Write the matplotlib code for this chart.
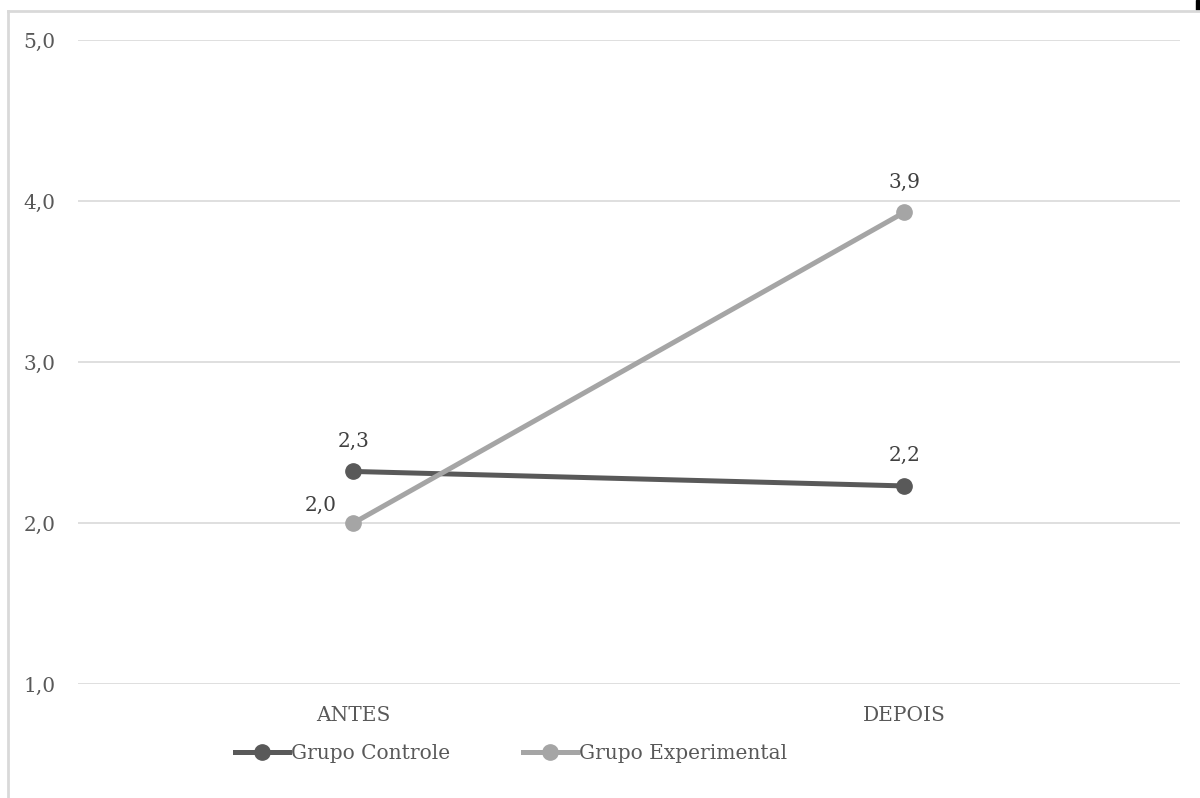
import matplotlib.pyplot as plt
from matplotlib.lines import Line2D
from matplotlib.patches import Rectangle

plt.rcParams['font.family'] = ['DejaVu Serif']

categorias = ['ANTES', 'DEPOIS']
controle = [2.32, 2.23]
experimental = [2.0, 3.93]
rot_controle = ['2,3', '2,2']
rot_experimental = ['2,0', '3,9']
yticks = [1.0, 2.0, 3.0, 4.0, 5.0]

cor_escura = '#595959'
cor_clara = '#A5A5A5'
cor_texto = '#595959'
fs = 14.5

fig = plt.figure(figsize=(12, 7.98), dpi=100)
ax = fig.add_axes([0.065, 0.1429, 0.9183, 0.807])

x = [0, 1]
ax.plot(x, controle, color=cor_escura, lw=3.6, marker='o', ms=11, solid_capstyle='round')
ax.plot(x, experimental, color=cor_clara, lw=3.6, marker='o', ms=11, solid_capstyle='round')

for xi, v, t in zip(x, controle, rot_controle):
    ax.annotate(t, (xi, v), xytext=(0, 15), textcoords='offset points',
                ha='center', va='bottom', fontsize=fs, color='#404040')
ax.annotate(rot_experimental[0], (x[0], experimental[0]), xytext=(-12, 6),
            textcoords='offset points', ha='right', va='bottom', fontsize=fs, color='#404040')
ax.annotate(rot_experimental[1], (x[1], experimental[1]), xytext=(0, 15),
            textcoords='offset points', ha='center', va='bottom', fontsize=fs, color='#404040')

ax.set_xlim(-0.5, 1.5)
ax.set_ylim(1.0, 5.0)
ax.set_yticks(yticks)
ax.set_yticklabels([f'{v:.1f}'.replace('.', ',') for v in yticks], fontsize=fs, color=cor_texto)
ax.set_xticks(x)
ax.set_xticklabels(categorias, fontsize=fs, color=cor_texto)
ax.tick_params(length=0)
ax.tick_params(axis='x', pad=16)
ax.tick_params(axis='y', pad=16)
ax.grid(axis='y', color='#D9D9D9', lw=1.2)
ax.set_axisbelow(True)
for s in ax.spines.values():
    s.set_visible(False)

handles = [Line2D([], [], color=cor_escura, lw=3.6, marker='o', ms=11),
           Line2D([], [], color=cor_clara, lw=3.6, marker='o', ms=11)]
fig.legend(handles, ['Grupo Controle', 'Grupo Experimental'], loc='center',
           bbox_to_anchor=(0.426, 0.056), ncol=2, frameon=False, fontsize=fs,
           labelcolor=cor_texto, handlelength=2.7, handletextpad=0.1, columnspacing=3.6)

# moldura do grafico
fig.add_artist(Line2D([8 / 1200, 8 / 1200], [0, 1 - 11 / 798], transform=fig.transFigure,
                      color='#D9D9D9', lw=2))
fig.add_artist(Line2D([8 / 1200, 1], [1 - 11 / 798, 1 - 11 / 798], transform=fig.transFigure,
                      color='#D9D9D9', lw=2))
fig.add_artist(Rectangle((1196 / 1200, 1 - 10 / 798), 3 / 1200, 10 / 798,
                         transform=fig.transFigure, color='black'))

fig.savefig('out.png', dpi=100)
